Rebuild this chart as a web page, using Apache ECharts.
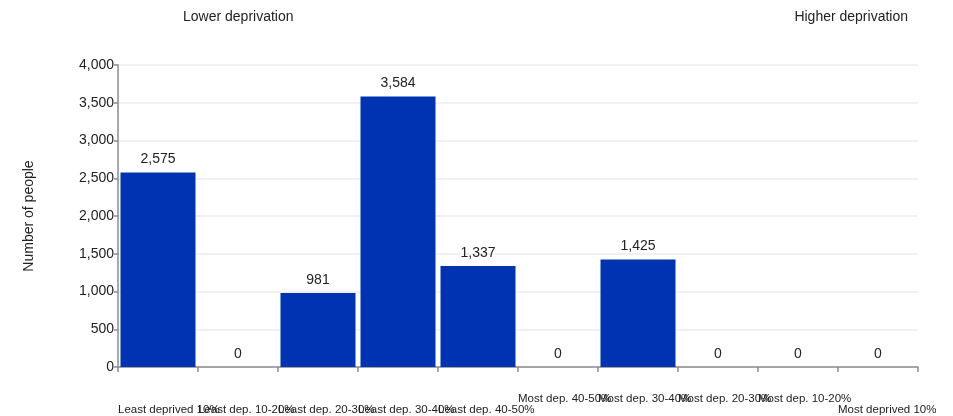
<!DOCTYPE html>
<html>
<head>
<meta charset="utf-8">
<script src="https://cdn.jsdelivr.net/npm/echarts@6/dist/echarts.min.js"></script>
<style>
html,body{margin:0;padding:0;background:#fff;}
#chart{width:953px;height:416px;}
</style>
</head>
<body>
<div id="chart"></div>
<script>
const categories = ['Least deprived 10%','Least dep. 10-20%','Least dep. 20-30%','Least dep. 30-40%','Least dep. 40-50%','Most dep. 40-50%','Most dep. 30-40%','Most dep. 20-30%','Most dep. 10-20%','Most deprived 10%'];
const people = [2575, 0, 981, 3584, 1337, 0, 1425, 0, 0, 0];
const yTicks = [0, 500, 1000, 1500, 2000, 2500, 3000, 3500, 4000];
const raisedLabels = ['Most dep. 40-50%','Most dep. 30-40%','Most dep. 20-30%','Most dep. 10-20%'];
const sideTitles = ['Lower deprivation', 'Higher deprivation'];

const fmt = v => Number(v).toLocaleString('en-US');
const FONT = 'Liberation Sans, Arial, sans-serif';

const chart = echarts.init(document.getElementById('chart'), null, {renderer: 'canvas'});
chart.setOption({
  animation: false,
  textStyle: {fontFamily: FONT},
  grid: {left: 118, right: 35, top: 65, bottom: 49, containLabel: false},
  graphic: [
    {type: 'text', left: 183, top: 10, style: {text: sideTitles[0], font: '14px ' + FONT, fill: '#222'}},
    {type: 'text', right: 45, top: 10, style: {text: sideTitles[1], font: '14px ' + FONT, fill: '#222'}}
  ],
  xAxis: [
    {
      type: 'category',
      data: categories,
      axisLine: {lineStyle: {color: '#8c8c8c', width: 1.5}},
      axisTick: {show: true, interval: 0, length: 5, lineStyle: {color: '#8c8c8c', width: 1.5}},
      axisLabel: {show: false},
      splitLine: {show: false}
    },
    {
      type: 'category',
      data: categories.concat(['']),
      boundaryGap: false,
      position: 'bottom',
      axisLine: {show: false},
      axisTick: {show: false},
      splitLine: {show: false},
      axisLabel: {
        interval: 0,
        align: 'left',
        margin: 26,
        fontSize: 11.5,
        color: '#222',
        fontFamily: FONT,
        formatter: function (value) {
          if (!value) return '';
          return raisedLabels.indexOf(value) >= 0 ? '{b|' + value + '}' : '{a|' + value + '}';
        },
        rich: {
          a: {fontSize: 11.5, color: '#222', fontFamily: FONT, padding: [11, 0, 0, 0]},
          b: {fontSize: 11.5, color: '#222', fontFamily: FONT}
        }
      }
    }
  ],
  yAxis: {
    type: 'value',
    min: yTicks[0],
    max: yTicks[yTicks.length - 1],
    interval: yTicks[1] - yTicks[0],
    name: 'Number of people',
    nameLocation: 'middle',
    nameGap: 82,
    nameTextStyle: {fontSize: 14, color: '#222', fontFamily: FONT},
    axisLine: {show: true, lineStyle: {color: '#8c8c8c', width: 1.5}},
    axisTick: {show: true, length: 4, lineStyle: {color: '#8c8c8c', width: 1.5}},
    axisLabel: {fontSize: 14, color: '#222', margin: 4, fontFamily: FONT, formatter: fmt},
    splitLine: {show: true, lineStyle: {color: '#ececec', width: 1.5}}
  },
  series: [{
    type: 'bar',
    xAxisIndex: 0,
    data: people,
    barWidth: 75,
    itemStyle: {color: '#0033B2'},
    label: {
      show: true,
      position: 'top',
      distance: 6,
      fontSize: 14,
      color: '#222',
      fontFamily: FONT,
      formatter: p => fmt(p.value)
    }
  }]
});
</script>
</body>
</html>
